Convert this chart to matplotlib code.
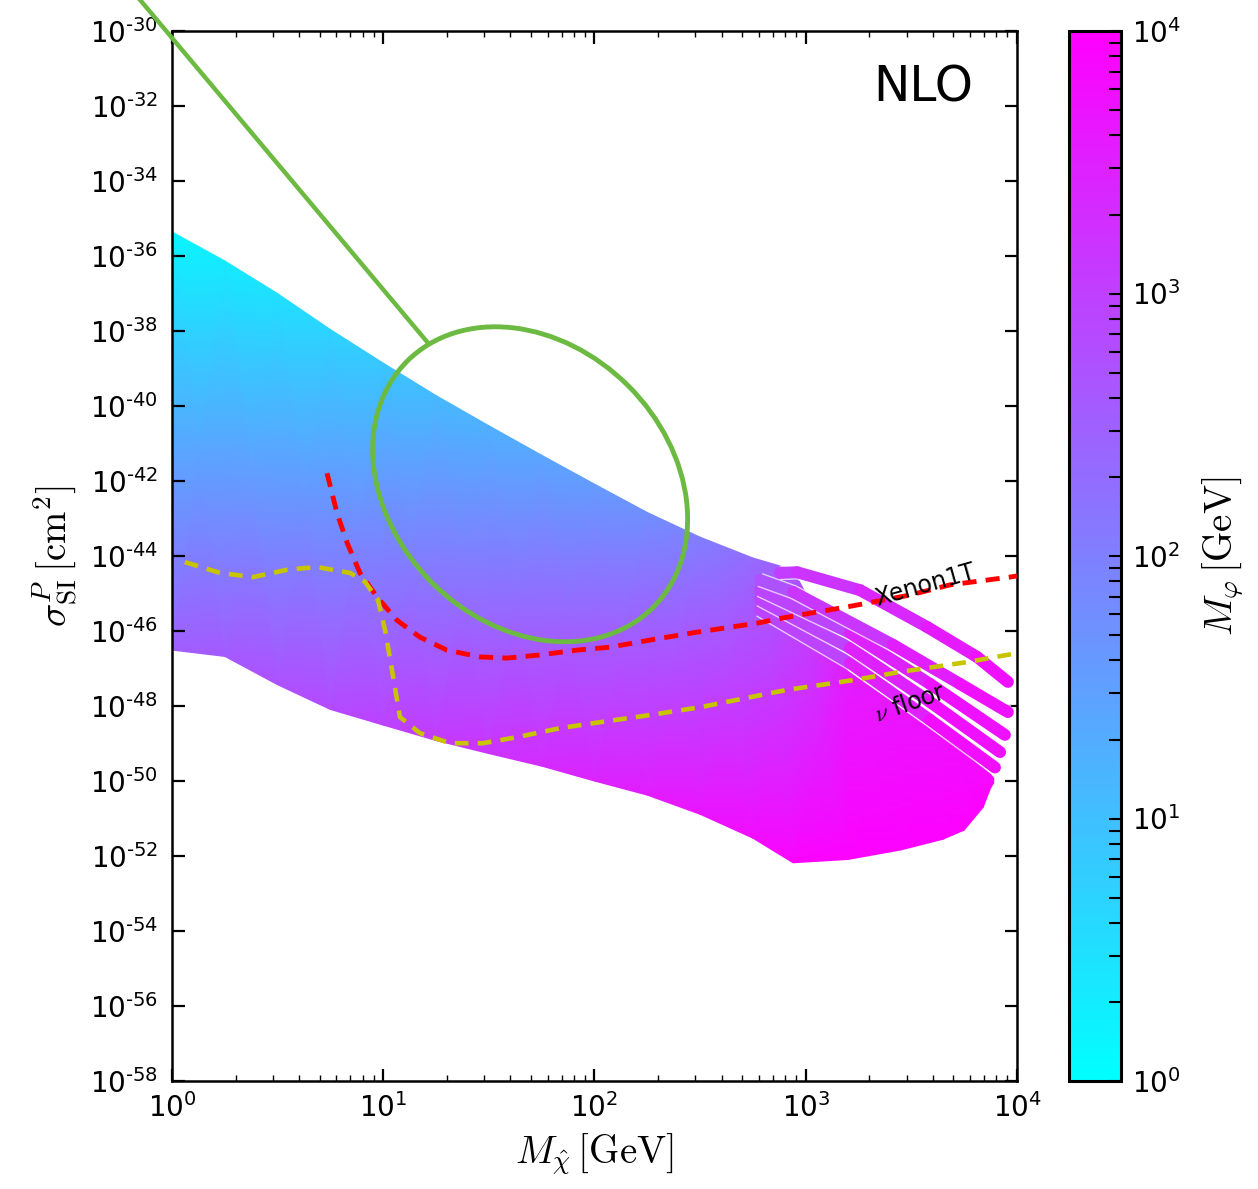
import numpy as np
import matplotlib
matplotlib.use("Agg")
import matplotlib.pyplot as plt
from matplotlib.colors import LogNorm
from matplotlib.collections import LineCollection
from matplotlib.patches import Ellipse
from matplotlib.transforms import ScaledTranslation
from matplotlib.ticker import FixedLocator, LogLocator, NullLocator, FuncFormatter

plt.rcParams['font.family'] = ['DejaVu Sans']
plt.rcParams['mathtext.fontset'] = 'dejavusans'
plt.rcParams['mathtext.default'] = 'it'
plt.rcParams['axes.unicode_minus'] = False

# scanned region: M_chi columns with upper / lower edge and M_phi colour at each edge
mchi_grid = [1.0, 1.78, 3.16, 5.62, 10.0, 17.8, 31.6, 56.2, 100, 178, 316, 562,
             871, 1585, 2818, 4467, 5623, 6918, 7499, 7762]
sigma_top = [4.4e-36, 7.4e-37, 1.0e-37, 1.1e-38, 1.4e-39, 1.9e-40, 3.0e-41, 4.9e-42,
             8.3e-43, 1.45e-43, 3.2e-44, 8.9e-45, 4.3e-45, 8.5e-48, 8.9e-49, 1.4e-49,
             5.6e-50, 2.2e-50, 1.5e-50, 1.2e-50]
sigma_bot = [3.1e-47, 2.1e-47, 3.7e-48, 8.1e-49, 3.1e-49, 1.2e-49, 5.4e-50, 2.5e-50,
             1.0e-50, 4.2e-51, 1.3e-51, 3.0e-52, 6.6e-53, 8.1e-53, 1.45e-52, 2.8e-52,
             4.9e-52, 2.0e-51, 6.5e-51, 8.9e-51]
mphi_top = [1.45, 2.1, 3.0, 4.8, 7.6, 12, 17, 25, 36, 58, 100, 209, 437,
            3500, 4600, 5500, 6200, 6700, 7000, 7200]
mphi_bot = [331, 400, 525, 692, 912, 1200, 1585, 2090, 2750, 3630, 4790, 6310, 8320,
            9120, 9120, 9120, 9120, 9000, 8500, 8000]

# separate heavy-mediator bands on the right (drawn lowest first)
stripes = {
    'E': ([607, 1622, 3873, 7870], [3.6e-46, 1.4e-47, 4.3e-49, 2.3e-50], [350, 2300, 4300, 8000]),
    'D': ([607, 1622, 3873, 8318], [6.8e-46, 3.55e-47, 1.29e-48, 5.9e-50], [350, 2200, 4000, 7800]),
    'C': ([607, 1622, 3873, 8770], [1.23e-45, 8.9e-47, 3.9e-48, 1.7e-49], [350, 2100, 3800, 7500]),
    'B': ([607, 871, 2588, 5370, 9057], [2.3e-45, 1.1e-45, 4.3e-47, 3.9e-48, 6.9e-49],
          [350, 800, 2500, 4500, 7000]),
    'A': ([755, 910, 1807, 3750, 6471, 9057], [3.55e-45, 3.7e-45, 1.23e-45, 1.29e-46, 2.04e-47, 4.4e-48],
          [1000, 1200, 2000, 3000, 4800, 6500]),
}

# Xenon1T limit
mchi_xenon = [5.42, 6.04, 6.75, 7.76, 9.35, 11.6, 14.9, 20.0, 28.7, 38.5, 55.2, 82.6,
              118, 183, 305, 587, 815, 1567, 3112, 4819, 9268, 10000]
sigma_xenon = [1.62e-42, 1.41e-43, 2.24e-44, 3.55e-45, 8.1e-46, 1.95e-46, 6.9e-47, 3.1e-47,
               2.04e-47, 1.9e-47, 2.3e-47, 3.1e-47, 3.7e-47, 5.75e-47, 9.3e-47, 1.62e-46,
               2.34e-46, 4.4e-46, 9.1e-46, 1.7e-45, 2.75e-45, 2.95e-45]

# neutrino floor
mchi_nu = [1.15, 1.69, 2.42, 3.50, 4.85, 6.97, 8.20, 9.44, 10.2, 11.0, 12.0, 14.9, 20.7,
           29.6, 43.0, 68.7, 106, 183, 316, 815, 1675, 2793, 5794, 10000]
sigma_nu = [6.9e-45, 3.55e-45, 2.75e-45, 4.3e-45, 5.1e-45, 3.55e-45, 2.04e-45, 6.8e-46,
            1.07e-46, 9.1e-48, 5.1e-49, 1.9e-49, 1.02e-49, 1.02e-49, 1.48e-49, 2.57e-49,
            3.7e-49, 5.75e-49, 9.3e-49, 2.7e-48, 4.9e-48, 8.1e-48, 1.48e-47, 2.57e-47]

# green marker: pointer line and ellipse (centre in data, size in pixels)
green_line_x = [0.706, 16.3]
green_line_y = [6.8e-30, 4.8e-39]
ellipse_center = (49.6, 8.2e-43)
ellipse_axes_px = (348, 278)
ellipse_angle = -45

green = '#6cba42'
norm = LogNorm(vmin=1, vmax=1e4)

fig = plt.figure(figsize=(12.58, 11.89), dpi=100)
ax = fig.add_axes([0.1367, 0.0908, 0.6717, 0.8831])
cax = fig.add_axes([0.8498, 0.0908, 0.0413, 0.8831])

ax.set_xscale('log')
ax.set_yscale('log')
ax.set_xlim(1, 1e4)
ax.set_ylim(1e-58, 1e-30)

X = np.array([mchi_grid, mchi_grid])
Y = np.array([sigma_bot, sigma_top])
C = np.array([mphi_bot, mphi_top])
mesh = ax.pcolormesh(X, Y, C, shading='gouraud', cmap='cool', norm=norm, zorder=1)

stripe_lw = 8.6
z = 2
for name, (sx, sy, sm) in stripes.items():
    ax.plot(sx, sy, color='white', alpha=0.7, lw=stripe_lw + 2.0, solid_capstyle='butt', zorder=z)
    pts = np.column_stack([sx, sy])
    segs = [pts[i:i + 2] for i in range(len(pts) - 1)]
    vals = [np.sqrt(sm[i] * sm[i + 1]) for i in range(len(sm) - 1)]
    lc = LineCollection(segs, cmap='cool', norm=norm, linewidths=stripe_lw, capstyle='round',
                        zorder=z + 0.5)
    lc.set_array(np.array(vals))
    ax.add_collection(lc)
    z += 1

ax.plot(mchi_xenon, sigma_xenon, color='red', lw=3.5, dashes=(2.9, 1.9), zorder=10)
ax.plot(mchi_nu, sigma_nu, color='#c8c400', lw=3.3, dashes=(3.0, 2.0), zorder=10)

ax.plot(green_line_x, green_line_y, color=green, lw=3.2, clip_on=False, zorder=11)
ell_trans = fig.dpi_scale_trans + ScaledTranslation(ellipse_center[0], ellipse_center[1], ax.transData)
ell = Ellipse((0, 0), ellipse_axes_px[0] / fig.dpi, ellipse_axes_px[1] / fig.dpi,
              angle=ellipse_angle, fill=False, edgecolor=green, lw=3.5,
              transform=ell_trans, zorder=11)
ax.add_patch(ell)

ax.text(3670, 1.7e-45, 'Xenon1T', rotation=15.7, fontsize=17, ha='center', va='center', zorder=12)
ax.text(3113, 1.2e-48, r'$\nu$ floor', rotation=19, fontsize=17, ha='center', va='center',
        math_fontfamily='cm', zorder=12)
ax.text(0.889, 0.946, 'NLO', transform=ax.transAxes, fontsize=35, ha='center', va='center')

ax.yaxis.set_major_locator(FixedLocator([10.0 ** e for e in range(-58, -29, 2)]))
ax.yaxis.set_minor_locator(NullLocator())
ax.yaxis.set_major_formatter(FuncFormatter(
    lambda v, p: r'$\mathdefault{10^{%s}}$' % str(int(round(np.log10(v)))).replace('-', '\u2010')))
ax.xaxis.set_major_locator(LogLocator(base=10, numticks=10))
ax.xaxis.set_minor_locator(LogLocator(base=10, subs=np.arange(2, 10), numticks=10))

ax.tick_params(which='both', direction='in', top=True, right=True, labelsize=20)
ax.tick_params(which='major', length=9, width=1.6)
ax.tick_params(which='minor', length=4.5, width=1.0)
ax.tick_params(axis='x', pad=9)
ax.tick_params(axis='y', pad=10)
for s in ax.spines.values():
    s.set_linewidth(1.8)

ax.set_xlabel(r'$M_{\hat{\chi}}\,[\mathrm{GeV}]$', fontsize=28, math_fontfamily='cm', labelpad=6)
ax.set_ylabel(r'$\sigma_{\mathrm{SI}}^{P}\,[\mathrm{cm}^2]$', fontsize=28, math_fontfamily='cm', labelpad=8)

cb = fig.colorbar(mesh, cax=cax)
cb.outline.set_linewidth(2.2)
cb.ax.yaxis.set_major_locator(LogLocator(base=10, numticks=10))
cb.ax.yaxis.set_minor_locator(LogLocator(base=10, subs=np.arange(2, 10), numticks=10))
cb.ax.tick_params(which='both', direction='in', length=8.5, width=1.5, labelsize=20, pad=8)
cb.set_label(r'$M_\varphi\,[\mathrm{GeV}]$', fontsize=28, math_fontfamily='cm', labelpad=14)

fig.savefig('out.png', dpi=100)
